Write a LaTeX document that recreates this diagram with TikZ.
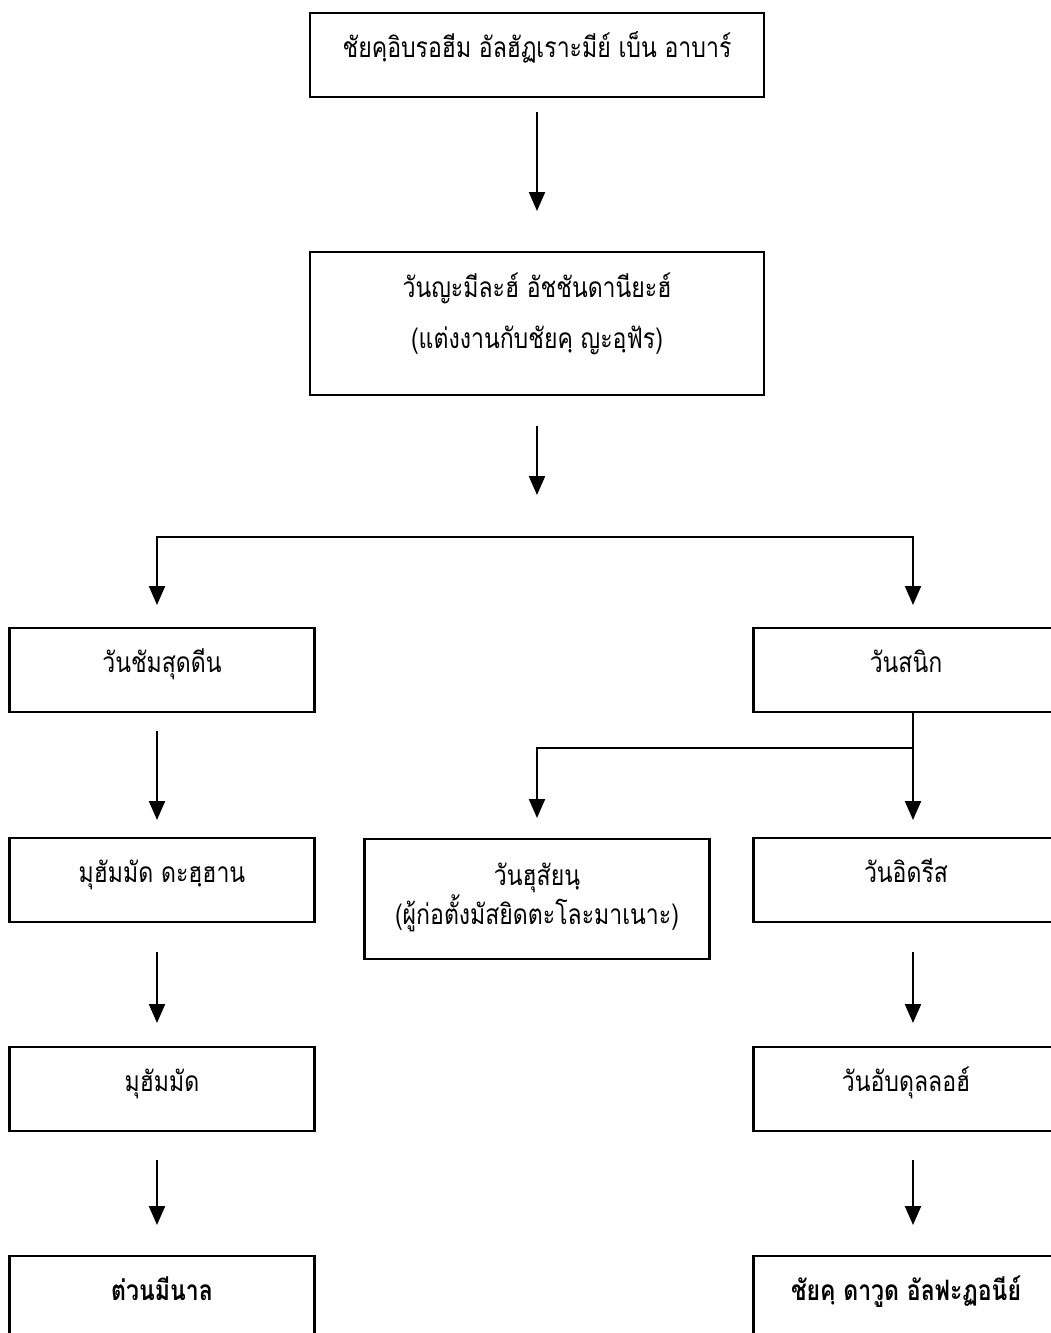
\documentclass[tikz,border=0pt]{standalone}
\usepackage{fontspec}
\newfontfamily\thaifont[Script=Thai,FakeStretch=0.82]{Loma}
\usetikzlibrary{arrows.meta}

\begin{document}
\begin{tikzpicture}[x=0.02cm, y=-0.02cm]
\tikzstyle{block} = [rectangle, draw, line width=1.3pt, inner sep=0pt, anchor=north, align=center, font=\thaifont\fontsize{16}{29}\selectfont, text height=0.88cm, text depth=0.8cm]
\tikzstyle{wide} = [block, minimum width=9.08cm]
\tikzstyle{side} = [block, minimum width=6.1cm]
\tikzstyle{line} = [draw, line width=1.2pt, -{Triangle[length=0.38cm,width=0.32cm]}]

\useasboundingbox (0,0) rectangle (1051,1333);

% top of the family
\node [wide] (ibrahim) at (537,12) {ชัยคฺอิบรอฮีม อัลฮัฏเราะมีย์ เบ็น อาบาร์};
\node [wide, text height=1.92cm, text depth=0.94cm] (jamilah) at (537,251) {วันญะมีละฮ์ อัชชันดานียะฮ์\\(แต่งงานกับชัยคฺ ญะอฺฟัร)};
\coordinate (fork) at (537,537);

% left line
\node [side] (shamsuddin) at (162,627) {วันชัมสุดดีน};
\node [side] (dahhan) at (162,837) {มุฮัมมัด ดะฮฺฮาน};
\node [side] (muhammad) at (162,1046) {มุฮัมมัด};
\node [side, font=\thaifont\bfseries\fontsize{16}{29}\selectfont] (minal) at (162,1255) {ต่วนมีนาล};

% right line
\node [side] (sanik) at (906,627) {วันสนิก};
\coordinate (rfork) at (913,748);
\node [block, minimum width=6.9cm, text height=1.7cm, text depth=0.7cm, font=\thaifont\fontsize{16}{20.5}\selectfont] (husain) at (537,838) {วันฮุสัยนฺ\\(ผู้ก่อตั้งมัสยิดตะโละมาเนาะ)};
\node [side] (idris) at (906,837) {วันอิดรีส};
\node [side] (abdullah) at (906,1046) {วันอับดุลลอฮ์};
\node [side, font=\thaifont\bfseries\fontsize{16}{29}\selectfont] (dawud) at (906,1255) {ชัยคฺ ดาวูด อัลฟะฏอนีย์};

\path [line, shorten <=0.28cm, shorten >=0.8cm] (ibrahim) -- (jamilah);
\path [line, shorten <=0.6cm, shorten >=0.84cm] (jamilah) -- (fork);
\path [line, shorten >=0.44cm] (fork) -| ([xshift=-0.1cm]shamsuddin.north);
\path [line, shorten >=0.44cm] (fork) -| ([xshift=0.14cm]sanik.north);

\path [line, shorten <=0.36cm, shorten >=0.34cm] ([xshift=-0.1cm]shamsuddin.south) -- ([xshift=-0.1cm]dahhan.north);
\path [line, shorten <=0.58cm, shorten >=0.46cm] ([xshift=-0.1cm]dahhan.south) -- ([xshift=-0.1cm]muhammad.north);
\path [line, shorten <=0.56cm, shorten >=0.6cm] ([xshift=-0.1cm]muhammad.south) -- ([xshift=-0.1cm]minal.north);

\path [line, shorten >=0.34cm] ([xshift=0.14cm]sanik.south) -- ([xshift=0.14cm]idris.north);
\path [line, shorten >=0.4cm] (rfork) -| (husain);
\path [line, shorten <=0.58cm, shorten >=0.46cm] ([xshift=0.14cm]idris.south) -- ([xshift=0.14cm]abdullah.north);
\path [line, shorten <=0.56cm, shorten >=0.6cm] ([xshift=0.14cm]abdullah.south) -- ([xshift=0.14cm]dawud.north);
\end{tikzpicture}
\end{document}
